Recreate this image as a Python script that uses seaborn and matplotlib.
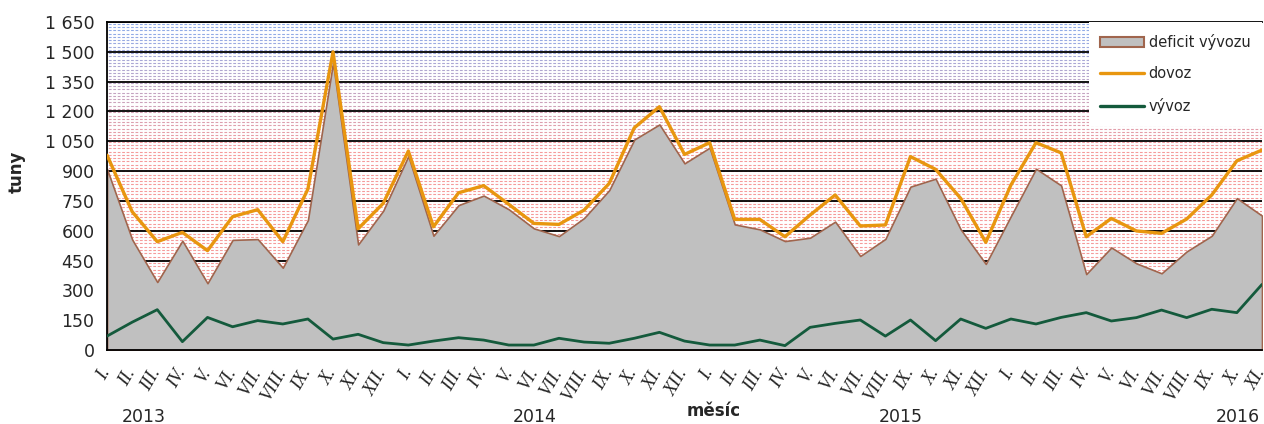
import numpy as np
import pandas as pd
import matplotlib
matplotlib.use("Agg")
import matplotlib.pyplot as plt
import seaborn as sns
from matplotlib.patches import Patch
from matplotlib.lines import Line2D

# -----------------------------------------------------
# data, tonnes per month
# -----------------------------------------------------
mesice = ["I.", "II.", "III.", "IV.", "V.", "VI.", "VII.", "VIII.", "IX.", "X.", "XI.", "XII."]
x_labels = mesice * 3 + mesice[:11]          # I.2013 .. XI.2016

dovoz = [980, 696, 545, 592, 500, 671, 706, 545, 810, 1500, 610, 738,
         1001, 620, 791, 827, 733, 637, 632, 704, 838, 1118, 1224, 984,
         1043, 657, 657, 570, 679, 780, 624, 629, 973, 909, 763, 542,
         830, 1043, 992, 570, 662, 599, 587, 659, 780, 952, 1006]

vyvoz = [70, 140, 203, 42, 164, 117, 148, 131, 156, 55, 79, 37,
         25, 45, 62, 50, 25, 25, 59, 40, 34, 59, 89, 45,
         25, 25, 50, 22, 114, 134, 151, 70, 151, 47, 156, 109,
         156, 131, 164, 188, 146, 163, 201, 163, 205, 188, 330]

roky = ["2013", "2014", "2015", "2016"]

df = pd.DataFrame({"idx": np.arange(len(dovoz)), "dovoz": dovoz, "vyvoz": vyvoz})
df["deficit"] = df["dovoz"] - df["vyvoz"]

# -----------------------------------------------------
# figure
# -----------------------------------------------------
sns.set_style("white")
plt.rcParams["font.family"] = ["DejaVu Sans"]

c_dovoz = "#e8960f"
c_vyvoz = "#145a3c"
c_area = "#c0c0c0"
c_edge = "#a0654d"

fig = plt.figure(figsize=(12.64, 4.24), dpi=100)
ax = fig.add_axes([0.0847, 0.1745, 0.9137, 0.7735])

ymax = 1650
n = len(df)

# patterned background: thin dashed lines, blue at top fading to red
hatch_levels = np.arange(8.25, ymax, 16.5)
blue = np.array([0.42, 0.56, 0.88])
red = np.array([0.95, 0.48, 0.48])
for v in hatch_levels:
    t = np.clip((v - 1000) / 600, 0, 1)
    col = red * (1 - t) + blue * t
    ax.hlines(v, -0.5, n, colors=[col], linewidth=0.8, alpha=0.75,
              linestyles=(0, (2.5, 1.5)), zorder=0)

# main gridlines
for v in range(150, ymax + 1, 150):
    ax.axhline(v, color="black", linewidth=1.3, zorder=1)

# deficit area
ax.fill_between(df["idx"], 0, df["deficit"], facecolor=c_area,
                edgecolor=c_edge, linewidth=1.2, zorder=2)

sns.lineplot(data=df, x="idx", y="dovoz", color=c_dovoz, linewidth=2.4, ax=ax, zorder=3)
sns.lineplot(data=df, x="idx", y="vyvoz", color=c_vyvoz, linewidth=2.0, ax=ax, zorder=3)

ax.set_xlim(0, n - 1)
ax.set_ylim(0, ymax)

yt = np.arange(0, ymax + 1, 150)
ax.set_yticks(yt)
ax.set_yticklabels([f"{v:,.0f}".replace(",", " ") for v in yt], fontsize=12.5)

ax.set_xticks(df["idx"])
ax.set_xticklabels(x_labels, rotation=60, ha="right", va="center",
                   rotation_mode="anchor", fontsize=13.5,
                   family="Liberation Serif", style="italic")

ax.tick_params(axis="both", direction="out", length=5, width=1.2, color="black")
ax.tick_params(axis="x", pad=9)
ax.tick_params(axis="y", pad=4)

ax.set_xlabel("")
ax.set_ylabel("")
for s in ["left", "bottom", "top"]:
    ax.spines[s].set_color("black")
    ax.spines[s].set_linewidth(1.3)
ax.spines["right"].set_visible(False)

# axis titles and years
fig.text(0.013, 0.594, "tuny", rotation=90, fontsize=12, fontweight="bold",
         ha="center", va="center")
fig.text(0.565, 0.031, "měsíc", fontsize=12, fontweight="bold", ha="center", va="center")
rok_x = [1.45, 17.05, 31.6, 45.05]
for r, xi in zip(roky, rok_x):
    ax.text(xi, -0.205, r, transform=ax.get_xaxis_transform(), fontsize=12.5,
            ha="center", va="center")

# legend
handles = [
    Patch(facecolor=c_area, edgecolor=c_edge, linewidth=1.5, label="deficit vývozu"),
    Line2D([0], [0], color=c_dovoz, linewidth=2.4, label="dovoz"),
    Line2D([0], [0], color=c_vyvoz, linewidth=2.4, label="vývoz"),
]
leg = ax.legend(handles=handles, loc="upper right", bbox_to_anchor=(1.0, 1.0),
                borderaxespad=0.0, frameon=True, fancybox=False, framealpha=1.0,
                facecolor="white", edgecolor="none", fontsize=10.5,
                handlelength=3.0, handletextpad=0.3, labelspacing=1.15,
                borderpad=0.8)
leg.set_zorder(5)

fig.savefig("out.png", dpi=100)
